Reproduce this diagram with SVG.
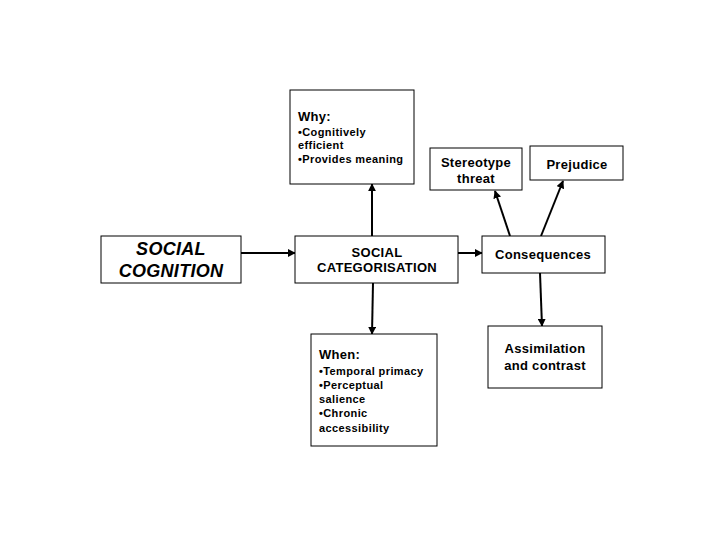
<svg xmlns="http://www.w3.org/2000/svg" width="720" height="540" viewBox="0 0 720 540">
<style>
.box{fill:#fff;stroke:#000;stroke-width:1}
.t{font-family:"Liberation Sans",Arial,sans-serif;fill:#000;font-weight:bold;letter-spacing:0.3px}
.s{font-size:11px;letter-spacing:0.4px}
.c{stroke:#000;stroke-width:2;fill:none;marker-end:url(#ah)}
</style>
<defs>
<marker id="ah" viewBox="0 0 10 10" refX="9" refY="5" markerWidth="4" markerHeight="4" orient="auto" markerUnits="strokeWidth">
<path d="M0,0 L10,5 L0,10 z" fill="#000"/>
</marker>
</defs>
<rect width="720" height="540" fill="#fff"/>
<g id="connectors">
<line class="c" x1="241" y1="253" x2="295" y2="253"/>
<line class="c" x1="458" y1="253" x2="482" y2="253"/>
<line class="c" x1="372" y1="236" x2="372" y2="184"/>
<line class="c" x1="373" y1="283" x2="372" y2="334"/>
<line class="c" x1="540" y1="273" x2="542" y2="326"/>
<line class="c" x1="510" y1="236" x2="495" y2="191"/>
<line class="c" x1="541" y1="236" x2="563" y2="181"/>
</g>
<g id="why">
<rect class="box" x="290" y="90" width="124" height="94"/>
<text class="t" x="298" y="121" font-size="13">Why:</text>
<text class="t s" x="298" y="136">•Cognitively</text>
<text class="t s" x="298" y="149">efficient</text>
<text class="t s" x="298" y="163">•Provides meaning</text>
</g>
<g id="social-cognition">
<rect class="box" x="101" y="236" width="140" height="47"/>
<text class="t" x="171" y="255" font-size="18" font-style="italic" text-anchor="middle">SOCIAL</text>
<text class="t" x="171" y="277" font-size="18" font-style="italic" text-anchor="middle">COGNITION</text>
</g>
<g id="social-categorisation">
<rect class="box" x="295" y="236" width="163" height="47"/>
<text class="t" x="377" y="257" font-size="13" text-anchor="middle">SOCIAL</text>
<text class="t" x="377" y="272" font-size="13" text-anchor="middle">CATEGORISATION</text>
</g>
<g id="stereotype-threat">
<rect class="box" x="430" y="148" width="92" height="42"/>
<text class="t" x="476" y="167" font-size="13" text-anchor="middle">Stereotype</text>
<text class="t" x="476" y="183" font-size="13" text-anchor="middle">threat</text>
</g>
<g id="prejudice">
<rect class="box" x="530" y="146" width="93" height="34"/>
<text class="t" x="577" y="169" font-size="13" text-anchor="middle">Prejudice</text>
</g>
<g id="consequences">
<rect class="box" x="482" y="236" width="123" height="37"/>
<text class="t" x="543" y="259" font-size="13" text-anchor="middle">Consequences</text>
</g>
<g id="assimilation">
<rect class="box" x="488" y="326" width="114" height="62"/>
<text class="t" x="545" y="353" font-size="13" text-anchor="middle">Assimilation</text>
<text class="t" x="545" y="370" font-size="13" text-anchor="middle">and contrast</text>
</g>
<g id="when">
<rect class="box" x="311" y="334" width="126" height="112"/>
<text class="t" x="319" y="359" font-size="13">When:</text>
<text class="t s" x="319" y="375">•Temporal primacy</text>
<text class="t s" x="319" y="389">•Perceptual</text>
<text class="t s" x="319" y="403">salience</text>
<text class="t s" x="319" y="417">•Chronic</text>
<text class="t s" x="319" y="432">accessibility</text>
</g>
</svg>
